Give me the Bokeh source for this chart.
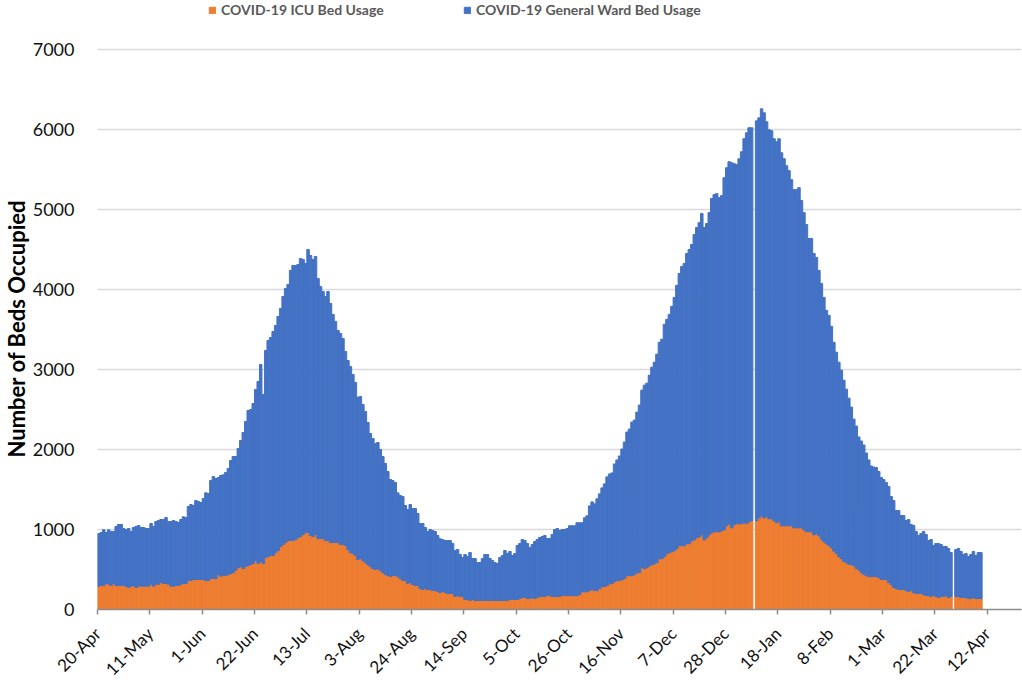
import numpy as np
from math import pi
from bokeh.plotting import figure
from bokeh.models import (ColumnDataSource, Range1d, FixedTicker, Legend,
                          LegendItem, Title)
from bokeh.embed import file_html
from bokeh.resources import INLINE

# ---------------- data (daily, first day = 20-Apr-2020; None = no report) ----
first_day = "20-Apr-2020"

icu_beds = [
    292, 300, 300, 325, 317, 300, 325, 300, 300, 300,
    300, 292, 275, 292, 300, 275, 292, 292, 292, 292,
    292, 317, 292, 317, 317, 342, 325, 325, 317, 292,
    292, 300, 300, 317, 325, 325, 362, 362, 375, 375,
    375, 375, 375, 362, 362, 387, 387, 387, 437, 417,
    425, 425, 437, 450, 462, 492, 525, 533, 512, 537,
    550, 562, 575, 612, 575, 600, 575, 650, 662, 675,
    675, 712, 737, 787, 812, 837, 862, 862, 862, 875,
    900, 912, 937, 962, 962, 925, 912, 937, 887, 887,
    887, 862, 862, 837, 837, 837, 837, 812, 812, 800,
    750, 712, 700, 675, 625, 637, 612, 587, 562, 537,
    512, 500, 512, 487, 462, 437, 425, 412, 425, 425,
    412, 387, 362, 362, 325, 337, 312, 300, 300, 262,
    250, 262, 250, 250, 237, 237, 225, 212, 225, 212,
    200, 200, 200, 162, 175, 162, 162, 125, 125, 112,
    125, 112, 112, 112, 112, 112, 112, 112, 112, 112,
    112, 112, 112, 112, 112, 125, 125, 125, 125, 137,
    150, 150, 137, 137, 150, 137, 150, 162, 162, 162,
    175, 175, 162, 162, 162, 162, 178, 175, 173, 173,
    173, 173, 173, 186, 222, 222, 222, 236, 248, 236,
    236, 261, 286, 286, 298, 323, 323, 348, 361, 361,
    373, 386, 423, 423, 423, 435, 460, 460, 522, 510,
    522, 547, 560, 572, 585, 635, 635, 660, 697, 709,
    722, 735, 759, 797, 797, 797, 822, 822, 859, 871,
    896, 909, 934, 871, 896, 934, 959, 971, 971, 971,
    984, 996, 1046, 1071, 1021, 1059, 1071, 1071, 1071, 1084,
    1071, 1096, 1109, None, 1109, 1146, 1171, 1146, 1159, 1134,
    1134, 1109, 1084, 1096, 1046, 1046, 1046, 1046, 1046, 1021,
    1021, 1021, 1021, 996, 971, 971, 971, 934, 946, 921,
    880, 847, 822, 800, 770, 730, 700, 660, 635, 600,
    585, 565, 560, 550, 515, 495, 460, 440, 423, 412,
    410, 412, 412, 400, 375, 375, 375, 337, 312, 275,
    262, 250, 250, 250, 237, 225, 237, 212, 200, 200,
    200, 187, 175, 175, 162, 175, 162, 150, 162, 162,
    175, 150, 162, None, 162, 162, 150, 150, 150, 137,
    137, 150, 137, 137, 137,
]

ward_beds = [
    658, 662, 696, 637, 679, 675, 650, 738, 762, 762,
    712, 708, 737, 683, 725, 763, 758, 733, 733, 720,
    720, 758, 746, 783, 795, 783, 800, 825, 783, 808,
    820, 800, 787, 808, 833, 825, 925, 950, 925, 987,
    975, 962, 1012, 1096, 1088, 1225, 1275, 1250, 1213, 1258,
    1258, 1287, 1325, 1412, 1450, 1420, 1487, 1579, 1700, 1813,
    1937, 1938, 2000, 2138, 2275, 2462, 2112, 2587, 2700, 2725,
    2800, 2838, 2925, 2975, 3100, 3175, 3200, 3375, 3438, 3425,
    3412, 3475, 3438, 3363, 3538, 3500, 3463, 3475, 3250, 3150,
    3088, 3050, 3113, 2988, 2850, 2763, 2650, 2638, 2575, 2425,
    2362, 2325, 2237, 2162, 2029, 2025, 1950, 1888, 1775, 1663,
    1625, 1575, 1575, 1513, 1450, 1388, 1300, 1213, 1187, 1162,
    1046, 1038, 1050, 938, 925, 975, 950, 962, 900, 813,
    825, 763, 725, 750, 750, 738, 700, 671, 650, 650,
    662, 662, 625, 575, 575, 525, 488, 562, 537, 600,
    512, 525, 475, 475, 525, 575, 575, 525, 500, 475,
    463, 538, 563, 625, 588, 600, 550, 575, 675, 688,
    725, 712, 688, 638, 662, 713, 725, 738, 750, 763,
    712, 712, 775, 838, 850, 825, 822, 825, 839, 873,
    873, 873, 911, 898, 862, 924, 949, 1059, 1097, 1084,
    1147, 1184, 1234, 1284, 1359, 1371, 1384, 1471, 1508, 1558,
    1633, 1707, 1795, 1832, 1920, 1933, 2007, 2095, 2220, 2294,
    2307, 2382, 2469, 2519, 2606, 2705, 2743, 2905, 2930, 2980,
    3067, 3166, 3292, 3403, 3491, 3528, 3628, 3678, 3703, 3816,
    3878, 3927, 4015, 3903, 3928, 4027, 4177, 4215, 4227, 4177,
    4189, 4401, 4476, 4526, 4563, 4513, 4489, 4563, 4650, 4800,
    4887, 4925, 4912, None, 4999, 4999, 5087, 5062, 4937, 4862,
    4850, 4775, 4762, 4788, 4663, 4588, 4501, 4439, 4327, 4227,
    4227, 4252, 4090, 3965, 3840, 3666, 3666, 3516, 3454, 3317,
    3196, 3054, 2918, 2877, 2770, 2610, 2516, 2431, 2356, 2266,
    2169, 2077, 1970, 1830, 1778, 1661, 1646, 1616, 1533, 1457,
    1384, 1368, 1363, 1325, 1275, 1250, 1212, 1200, 1100, 1087,
    975, 987, 925, 925, 875, 900, 825, 838, 775, 725,
    750, 788, 762, 687, 713, 625, 663, 675, 650, 625,
    612, 612, 550, None, 588, 600, 575, 537, 550, 525,
    550, 575, 538, 575, 575,
]

tick_labels = ["20-Apr", "11-May", "1-Jun", "22-Jun", "13-Jul", "3-Aug",
               "24-Aug", "14-Sep", "5-Oct", "26-Oct", "16-Nov", "7-Dec",
               "28-Dec", "18-Jan", "8-Feb", "1-Mar", "22-Mar", "12-Apr"]
tick_step_days = 21
y_ticks = [0, 1000, 2000, 3000, 4000, 5000, 6000, 7000]

series_names = ["COVID-19 ICU Bed Usage", "COVID-19 General Ward Bed Usage"]
y_title = "Number of Beds Occupied"

# ---------------- build ----------------
n = min(len(icu_beds), len(ward_beds))
icu = np.array([np.nan if v is None else v for v in icu_beds[:n]], dtype=float)
ward = np.array([np.nan if v is None else v for v in ward_beds[:n]], dtype=float)
day = np.arange(n)

src = ColumnDataSource(dict(x=day + 0.5, icu_top=icu, ward_bottom=icu,
                            ward_top=icu + ward))

ORANGE = "#ED7D31"
BLUE = "#4472C4"
FONT = "Lato"

# plot area reaches the top edge (room for the legend); top gridline = 7000
p = figure(width=1022, height=689, output_backend="svg", toolbar_location=None,
           x_range=Range1d(0, 370.8), y_range=Range1d(0, 7612),
           min_border_left=97, min_border_right=1, min_border_top=0,
           min_border_bottom=80)
p.outline_line_color = None
p.background_fill_color = "white"
p.border_fill_color = "white"

r_icu = p.vbar(x="x", width=1, bottom=0, top="icu_top", source=src,
               fill_color=ORANGE, line_color=ORANGE, line_width=1)
r_ward = p.vbar(x="x", width=1, bottom="ward_bottom", top="ward_top",
                source=src, fill_color=BLUE, line_color=BLUE, line_width=1)

# x axis
xt = [i * tick_step_days for i in range(len(tick_labels))]
p.xaxis.ticker = FixedTicker(ticks=xt)
p.xaxis.major_label_overrides = {t: lab for t, lab in zip(xt, tick_labels)}
p.xaxis.major_label_orientation = pi / 4
p.xaxis.axis_line_color = "#8C8C8C"
p.xaxis.axis_line_width = 1.5
p.xaxis.major_tick_line_color = "#8C8C8C"
p.xaxis.major_tick_line_width = 1.5
p.xaxis.major_tick_out = 5
p.xaxis.major_tick_in = 0
p.xaxis.minor_tick_line_color = None
p.xaxis.major_label_text_font = FONT
p.xaxis.major_label_text_font_size = "17px"
p.xaxis.major_label_text_color = "#111111"
p.xaxis.major_label_standoff = 16
p.xgrid.visible = False

# y axis
p.yaxis.ticker = FixedTicker(ticks=y_ticks)
p.yaxis.axis_line_color = None
p.yaxis.major_tick_line_color = None
p.yaxis.minor_tick_line_color = None
p.yaxis.major_label_standoff = 17
p.yaxis.major_label_text_font = FONT
p.yaxis.major_label_text_font_size = "18px"
p.yaxis.major_label_text_color = "#111111"
p.ygrid.grid_line_color = "#D9D9D9"
p.ygrid.grid_line_width = 1.5

# y axis title, starting 152 px above the x axis (centred on the 0..7000 span)
p.add_layout(Title(text=y_title, align="left", offset=152, standoff=0,
                   text_font=FONT, text_font_size="22px",
                   text_font_style="bold", text_color="black"), "left")

# legend above the data (first label area fixed so 2nd item sits right)
legend = Legend(items=[LegendItem(label=series_names[0], renderers=[r_icu]),
                       LegendItem(label=series_names[1], renderers=[r_ward])],
                location=(111, 591), orientation="horizontal",
                glyph_width=8, glyph_height=8, label_standoff=5,
                label_width=242, label_height=16, padding=0, margin=0,
                spacing=0, border_line_color=None, background_fill_alpha=0,
                label_text_font=FONT, label_text_font_size="14px",
                label_text_font_style="bold", label_text_color="#595959")
p.add_layout(legend, "center")

open("out.html", "w").write(file_html(p, INLINE))
